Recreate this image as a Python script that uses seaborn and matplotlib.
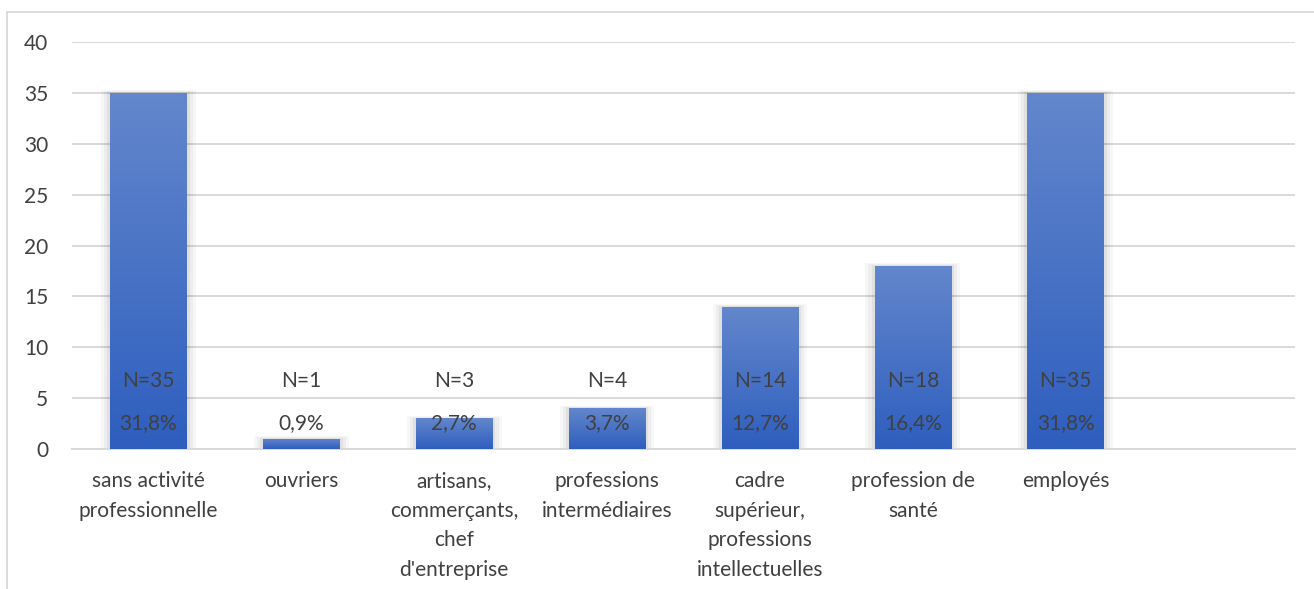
import matplotlib
matplotlib.use("Agg")
import matplotlib.pyplot as plt
import matplotlib.patches as mpatches
import numpy as np
import pandas as pd
import seaborn as sns

categories = ["sans activité\nprofessionnelle", "ouvriers",
              "artisans,\ncommerçants,\nchef\nd'entreprise",
              "professions\nintermédiaires",
              "cadre\nsupérieur,\nprofessions\nintellectuelles",
              "profession de\nsanté", "employés"]
counts = [35, 1, 3, 4, 14, 18, 35]
percents = ["31,8%", "0,9%", "2,7%", "3,7%", "12,7%", "16,4%", "31,8%"]
yticks = [0, 5, 10, 15, 20, 25, 30, 35, 40]

sns.set_theme(style="white")
plt.rcParams['font.family'] = ['Lato', 'DejaVu Sans']

fig = plt.figure(figsize=(13.14, 5.89), dpi=100)
ax = fig.add_axes([72/1314, 1-449/589, 1223/1314, (449-42)/589])

df = pd.DataFrame({"cat": categories, "n": counts})
sns.barplot(data=df, x="cat", y="n", ax=ax, color="#4472C4", width=0.5,
            saturation=1, zorder=3, edgecolor="none", linewidth=0)

FS = 15
ax.set_xlim(-0.5, 7.5)
ax.set_ylim(0, 40)
ax.set_yticks(yticks)
ax.set_xlabel("")
ax.set_ylabel("")
txtc = "#404040"
ax.tick_params(axis="y", length=0, labelsize=FS, labelcolor=txtc, pad=17)
ax.tick_params(axis="x", which="major", length=0, labelsize=FS, labelcolor=txtc, pad=16)
for lab in ax.get_xticklabels():
    lab.set_linespacing(1.6)
ax.set_xticks(np.arange(-0.5, 8.0, 1.0), minor=True)
ax.tick_params(axis="x", which="minor", length=8, width=1.3, color="#d9d9d9", direction="out")
ax.yaxis.grid(True, color="#d9d9d9", linewidth=1.4, zorder=0)
ax.set_axisbelow(True)
for s in ["top", "right", "left"]:
    ax.spines[s].set_visible(False)
ax.spines["bottom"].set_color("#d9d9d9")
ax.spines["bottom"].set_linewidth(1.4)

# gradient + soft shadow
top = np.array(matplotlib.colors.to_rgb("#6387CC"))
bot = np.array(matplotlib.colors.to_rgb("#2E5EBE"))
grad = np.linspace(0, 1, 256)[:, None]
img = top[None, None, :] * (1 - grad[..., None]) + bot[None, None, :] * grad[..., None]
img = np.repeat(img, 2, axis=1)
for p in list(ax.patches):
    x0, w, h = p.get_x(), p.get_width(), p.get_height()
    for k, a in [(0.06, 0.03), (0.04, 0.04), (0.02, 0.05)]:
        sh = mpatches.Rectangle((x0 - k, 0), w + 2 * k, h + k * 4,
                                facecolor="black", edgecolor="none", alpha=a, zorder=2)
        ax.add_patch(sh)
    im = ax.imshow(img, extent=(x0, x0 + w, 0, h), aspect="auto", zorder=3.5,
                   origin="upper")
    im.set_clip_path(p)

for i, (n, pc) in enumerate(zip(counts, percents)):
    ax.text(i, 6.7, f"N={n}", ha="center", va="center", fontsize=FS, color=txtc, zorder=5)
    ax.text(i, 2.5, pc, ha="center", va="center", fontsize=FS, color=txtc, zorder=5)

frame = mpatches.Rectangle((7/1314, -0.1), 1.2, 1 - 12/589 + 0.1, transform=fig.transFigure,
                           fill=False, edgecolor="#d9d9d9", linewidth=1.3)
fig.patches.append(frame)

fig.savefig("out.png", dpi=100)
